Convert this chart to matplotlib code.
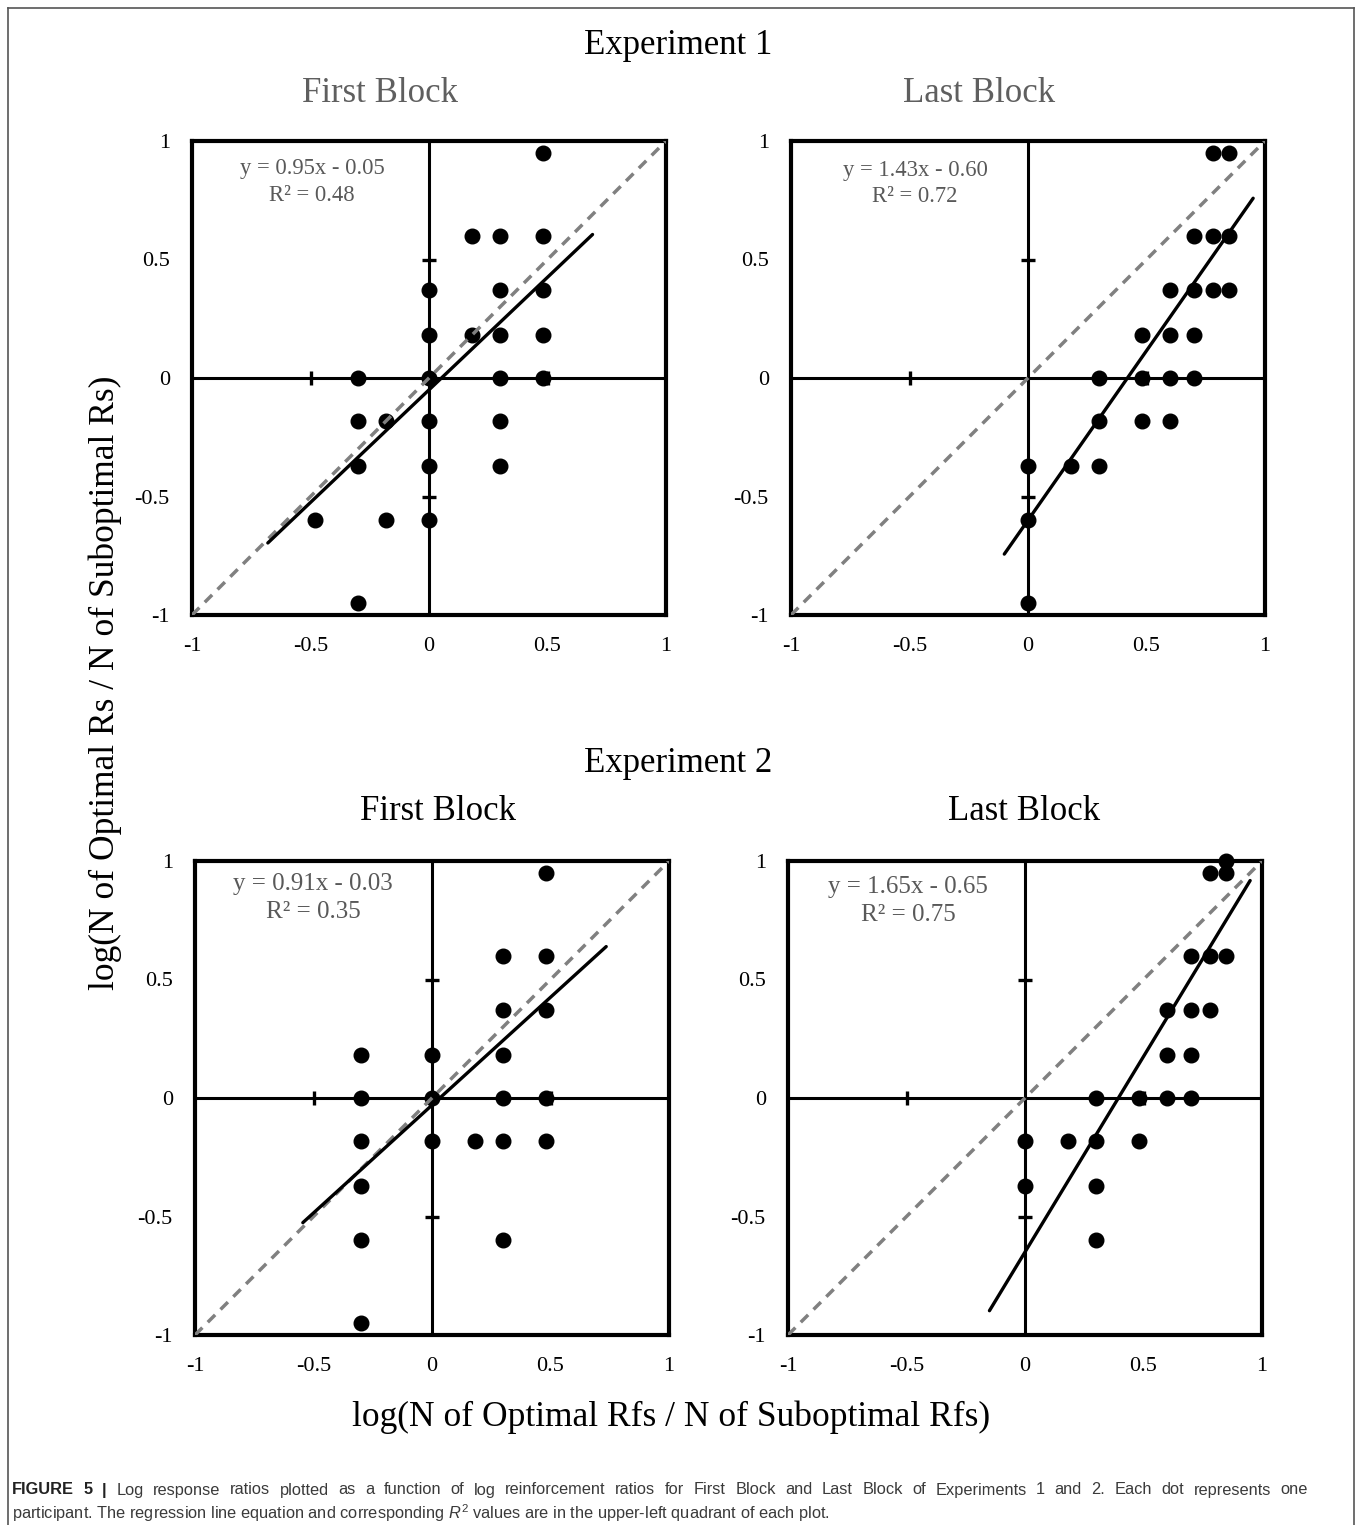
import matplotlib
matplotlib.use('Agg')
import matplotlib.pyplot as plt
from matplotlib import font_manager
from matplotlib.lines import Line2D

plt.rcParams['font.family'] = ['Liberation Serif', 'DejaVu Serif']
plt.rcParams['axes.unicode_minus'] = False

# Data: log reinforcement ratio (x) vs log response ratio (y), one dot per participant
exp1_first_x = [0.48, 0.18, 0.30, 0.48, 0.0, 0.30, 0.48, 0.0, 0.18, 0.30, 0.48,
                -0.30, 0.0, 0.30, 0.48, -0.30, -0.18, 0.0, 0.30, -0.30, 0.0, 0.30,
                -0.48, -0.18, 0.0, -0.30]
exp1_first_y = [0.95, 0.60, 0.60, 0.60, 0.37, 0.37, 0.37, 0.18, 0.18, 0.18, 0.18,
                0.0, 0.0, 0.0, 0.0, -0.18, -0.18, -0.18, -0.18, -0.37, -0.37, -0.37,
                -0.60, -0.60, -0.60, -0.95]

exp1_last_x = [0.78, 0.85, 0.70, 0.78, 0.85, 0.60, 0.70, 0.78, 0.85, 0.48, 0.60, 0.70,
               0.30, 0.48, 0.60, 0.70, 0.30, 0.48, 0.60, 0.0, 0.18, 0.30, 0.0, 0.0]
exp1_last_y = [0.95, 0.95, 0.60, 0.60, 0.60, 0.37, 0.37, 0.37, 0.37, 0.18, 0.18, 0.18,
               0.0, 0.0, 0.0, 0.0, -0.18, -0.18, -0.18, -0.37, -0.37, -0.37, -0.60, -0.95]

exp2_first_x = [0.48, 0.30, 0.48, 0.30, 0.48, -0.30, 0.0, 0.30, -0.30, 0.0, 0.30, 0.48,
                -0.30, 0.0, 0.18, 0.30, 0.48, -0.30, -0.30, 0.30, -0.30]
exp2_first_y = [0.95, 0.60, 0.60, 0.37, 0.37, 0.18, 0.18, 0.18, 0.0, 0.0, 0.0, 0.0,
                -0.18, -0.18, -0.18, -0.18, -0.18, -0.37, -0.60, -0.60, -0.95]

exp2_last_x = [0.85, 0.78, 0.85, 0.70, 0.78, 0.85, 0.60, 0.70, 0.78, 0.60, 0.70,
               0.30, 0.48, 0.60, 0.70, 0.0, 0.18, 0.30, 0.48, 0.0, 0.30, 0.30]
exp2_last_y = [1.0, 0.95, 0.95, 0.60, 0.60, 0.60, 0.37, 0.37, 0.37, 0.18, 0.18,
               0.0, 0.0, 0.0, 0.0, -0.18, -0.18, -0.18, -0.18, -0.37, -0.37, -0.60]

# regression fits: slope, intercept, R^2, x range of the drawn line
slopes = [0.95, 1.43, 0.91, 1.65]
intercepts = [-0.05, -0.60, -0.03, -0.65]
r_squared = [0.48, 0.72, 0.35, 0.75]
fit_ranges = [(-0.68, 0.69), (-0.10, 0.95), (-0.545, 0.735), (-0.15, 0.95)]

ticks = [-1, -0.5, 0, 0.5, 1]
tick_labels = ['-1', '-0.5', '0', '0.5', '1']

panel_x = [exp1_first_x, exp1_last_x, exp2_first_x, exp2_last_x]
panel_y = [exp1_first_y, exp1_last_y, exp2_first_y, exp2_last_y]

caption_1 = ('Log response ratios plotted as a function of log reinforcement ratios for First Block and '
             'Last Block of Experiments 1 and 2. Each dot represents one')
caption_2 = ('participant. The regression line equation and corresponding $\\mathit{R}^2$ values are in '
             'the upper-left quadrant of each plot.')

# caption font: a narrow sans if there is one, else the regular one a bit smaller
installed = {f.name for f in font_manager.fontManager.ttflist}
if 'Liberation Sans Narrow' in installed:
    cap_family = 'Liberation Sans Narrow'
    cap_size = 14.2
else:
    cap_family = 'Liberation Sans'
    cap_size = 11.8
cap_font = [cap_family, 'DejaVu Sans']
plt.rcParams['mathtext.fontset'] = 'custom'
plt.rcParams['mathtext.rm'] = cap_family
plt.rcParams['mathtext.it'] = cap_family + ':italic'

W, H = 1360, 1525
fig = plt.figure(figsize=(W / 100, H / 100), dpi=100)

# axes boxes in pixels (left, top)
boxes = [(192, 141), (791, 141), (195, 861), (788, 861)]
size = 474
eq_pos = [(0.253, 0.943, 0.886), (0.262, 0.937, 0.882), (0.249, 0.951, 0.892), (0.253, 0.945, 0.886)]
eq_size = [16.3, 16.3, 18, 18]

for i in range(4):
    left, top = boxes[i]
    ax = fig.add_axes([left / W, 1 - (top + size) / H, size / W, size / H])
    ax.set_xlim(-1, 1)
    ax.set_ylim(-1, 1)
    for sp in ax.spines.values():
        sp.set_linewidth(3)
    ax.set_xticks(ticks)
    ax.set_yticks(ticks)
    ax.set_xticklabels(tick_labels)
    ax.set_yticklabels(tick_labels)
    ax.tick_params(length=0, labelsize=16, pad=16)

    # crosshair with small ticks at +-0.5
    ax.axhline(0, color='black', lw=2.2, zorder=1)
    ax.axvline(0, color='black', lw=2.2, zorder=1)
    ax.plot([-0.5, 0.5], [0, 0], ls='none', marker='|', ms=10, mew=2.4, color='black', zorder=1)
    ax.plot([0, 0], [-0.5, 0.5], ls='none', marker='_', ms=10, mew=2.4, color='black', zorder=1)

    ax.plot(panel_x[i], panel_y[i], 'o', color='black', ms=10.5, ls='none', clip_on=False, zorder=2)

    ax.plot([-1, 1], [-1, 1], ls=(0, (3, 2.2)), color='#808080', lw=2.5, zorder=3)

    x0, x1 = fit_ranges[i]
    ax.plot([x0, x1], [slopes[i] * x0 + intercepts[i], slopes[i] * x1 + intercepts[i]],
            color='black', lw=2.4, solid_capstyle='round', zorder=4)

    ex, ey1, ey2 = eq_pos[i]
    ax.text(ex, ey1, f'y = {slopes[i]:.2f}x - {abs(intercepts[i]):.2f}', transform=ax.transAxes,
            ha='center', va='center', fontsize=eq_size[i], color='#595959')
    ax.text(ex, ey2, f'R² = {r_squared[i]:.2f}', transform=ax.transAxes,
            ha='center', va='center', fontsize=eq_size[i], color='#595959')

# titles
fig.text(678 / W, 1 - 46 / H, 'Experiment 1', ha='center', va='center', fontsize=25)
fig.text(380 / W, 1 - 94 / H, 'First Block', ha='center', va='center', fontsize=25, color='#5f5f5f')
fig.text(979 / W, 1 - 94 / H, 'Last Block', ha='center', va='center', fontsize=25, color='#5f5f5f')
fig.text(678 / W, 1 - 764 / H, 'Experiment 2', ha='center', va='center', fontsize=25)
fig.text(438 / W, 1 - 812 / H, 'First Block', ha='center', va='center', fontsize=25)
fig.text(1024 / W, 1 - 812 / H, 'Last Block', ha='center', va='center', fontsize=25)

fig.text(105 / W, 1 - 683 / H, 'log(N of Optimal Rs / N of Suboptimal Rs)', rotation=90,
         ha='center', va='center', fontsize=25.5)
fig.text(671 / W, 1 - 1417 / H, 'log(N of Optimal Rfs / N of Suboptimal Rfs)',
         ha='center', va='center', fontsize=25.5)

# caption: first line justified to the full width, second line left aligned
fig.canvas.draw()
renderer = fig.canvas.get_renderer()
words = [('FIGURE', 'bold'), ('5', 'bold'), ('|', 'bold')] + [(w, 'normal') for w in caption_1.split()]
artists = []
for w, weight in words:
    t = fig.text(0, 1 - 1490 / H, w, ha='left', va='center', fontsize=cap_size, fontweight=weight,
                 family=cap_font, color='#222222' if weight == 'bold' else '#3a3a3a')
    artists.append(t)
widths = [t.get_window_extent(renderer).width for t in artists]
line_left, line_right = 12, 1308
gap = (line_right - line_left - sum(widths)) / (len(artists) - 1)
xpos = line_left
for t, wd in zip(artists, widths):
    t.set_x(xpos / W)
    xpos += wd + gap
fig.text(12 / W, 1 - 1513 / H, caption_2, ha='left', va='center', fontsize=cap_size,
         family=cap_font, color='#3a3a3a')

# frame around the figure (open at the bottom)
fx0, fx1, fy0 = 8 / W, 1354 / W, 1 - 8 / H
for xs, ys in [([fx0, fx1], [fy0, fy0]), ([fx0, fx0], [fy0, -0.01]), ([fx1, fx1], [fy0, -0.01])]:
    fig.add_artist(Line2D(xs, ys, transform=fig.transFigure, color='#555555', lw=1.2))

fig.savefig('out.png', dpi=100)
